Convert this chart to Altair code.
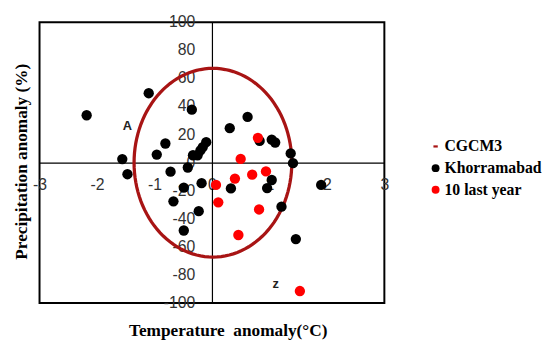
import altair as alt
import numpy as np
import pandas as pd

# ---- data ----
black_x = [-2.18, -1.10, -0.35, -1.56, -1.47, -0.81, -0.96, -0.72, -0.42, -0.33,
           -0.25, -0.20, -0.16, -0.10, -0.18, -0.49, -0.67, -0.23, -0.49, 0.31,
           0.62, 0.83, 1.04, 1.10, 1.37, 1.41, 1.04, 0.96, 0.33, 1.21,
           1.90, 1.46]
black_y = [33.8, 49.5, 37.8, 2.6, -8.2, 13.7, 5.8, -6.4, -3.4, 5.3,
           5.3, 8.8, 11.1, 14.6, -14.6, -17.8, -27.5, -34.5, -48.3, 24.6,
           32.6, 15.5, 16.4, 14.4, 6.6, -0.3, -12.3, -18.1, -18.3, -31.3,
           -15.8, -54.4]
red_x = [0.07, 0.11, 0.80, 0.50, 0.40, 0.70, 0.94, 0.82, 0.46, 1.53]
red_y = [-15.8, -28.2, 17.7, 2.7, -11.3, -8.5, -6.2, -33.3, -51.5, -91.4]

series_names = ["CGCM3", "Khorramabad", "10 last year"]
series_colors = ["#A81414", "#000000", "#FF0000"]

x_ticks = [-3, -2, -1, 0, 1, 2, 3]
y_ticks = [-100, -80, -60, -40, -20, 0, 20, 40, 60, 80, 100]

# CGCM3 range outline (ellipse): centre and half-widths
ell_cx, ell_cy = 0.017, 0.0
ell_rx, ell_ry = 1.372, 67.2

note_text = ["A", "z"]
note_x = [-1.47, 1.11]
note_y = [26.3, -86.7]

# ---- tables ----
pts = pd.DataFrame({
    "x": black_x + red_x,
    "y": black_y + red_y,
    "series": ["Khorramabad"] * len(black_x) + ["10 last year"] * len(red_x),
    "ord": [0] * len(black_x) + [1] * len(red_x),
})
t = np.linspace(0, 2 * np.pi, 121)
ell = pd.DataFrame({
    "x": ell_cx + ell_rx * np.cos(t),
    "y": ell_cy + ell_ry * np.sin(t),
    "i": np.arange(len(t)),
})
notes = pd.DataFrame({"x": note_x, "y": note_y, "text": note_text})
ylab = pd.DataFrame({"x": [0] * len(y_ticks), "y": y_ticks,
                     "text": [str(v) for v in y_ticks]})

xscale = alt.Scale(domain=[-3, 3], nice=False)
yscale = alt.Scale(domain=[-100, 100], nice=False)

lab_expr = "datum.value < 0 ? '-' + format(-datum.value, 'd') : format(datum.value, 'd')"

xaxis = alt.Axis(
    values=x_ticks, orient="bottom", offset=-142.5, grid=False,
    ticks=False, tickSize=0, domainColor="black", domainWidth=1.2,
    labelPadding=14, labelFont="Liberation Sans", labelFontSize=16,
    labelColor="#333333", labelFlush=False, labelOverlap=False,
    labelExpr=lab_expr,
    title="Temperature\u00a0 anomaly(°C)", titleX=191, titleY=175,
    titleAlign="center", titleBaseline="alphabetic",
    titleFont="Liberation Serif", titleFontSize=17.5, titleFontWeight="bold",
    titleColor="black",
)
yaxis = alt.Axis(
    values=y_ticks, orient="left", offset=-175, grid=False,
    ticks=False, tickSize=0, domainColor="black", domainWidth=1.2,
    labels=False,
    title="Precipitation anomaly (%)", titleX=-193, titleY=141,
    titleAngle=270, titleAlign="center", titleBaseline="middle",
    titleFont="Liberation Serif", titleFontSize=17.5, titleFontWeight="bold",
    titleColor="black",
)

ylabels = alt.Chart(ylab).mark_text(
    font="Liberation Sans", fontSize=16, color="#333333",
    align="right", baseline="middle", dx=-17,
).encode(
    x=alt.X("x:Q", scale=xscale, axis=xaxis),
    y=alt.Y("y:Q", scale=yscale, axis=yaxis),
    text="text:N",
)

ellipse = alt.Chart(ell).mark_line(color="#A81414", strokeWidth=3.3).encode(
    x="x:Q",
    y="y:Q",
    order="i:Q",
)

dash = "M-0.55,-0.28H0.55V0.28H-0.55Z"
points = alt.Chart(pts).mark_point(filled=True, opacity=1, size=110, strokeWidth=0).encode(
    x="x:Q",
    y="y:Q",
    color=alt.Color(
        "series:N",
        scale=alt.Scale(domain=series_names, range=series_colors),
        legend=alt.Legend(
            title=None, orient="none", legendX=394, legendY=118,
            labelFont="Liberation Serif", labelFontSize=16, labelFontWeight="bold",
            labelColor="black", symbolSize=64, labelOffset=1, rowPadding=6,
            symbolStrokeWidth=0, padding=0,
        ),
    ),
    shape=alt.Shape(
        "series:N",
        scale=alt.Scale(domain=series_names, range=[dash, "circle", "circle"]),
        legend=None,
    ),
    order="ord:Q",
)

text = alt.Chart(notes).mark_text(
    font="Liberation Sans", fontSize=13, fontWeight="bold", color="#222222"
).encode(x="x:Q", y="y:Q", text="text:N")

chart = alt.layer(ylabels, ellipse, points, text).properties(
    width=350, height=285,
    padding={"left": 32, "top": 12, "right": 160, "bottom": 40},
    autosize=alt.AutoSizeParams(type="none"),
).configure_view(stroke="black", strokeWidth=2)

chart.save("out.html", embed_options={"renderer": "svg", "actions": False})
